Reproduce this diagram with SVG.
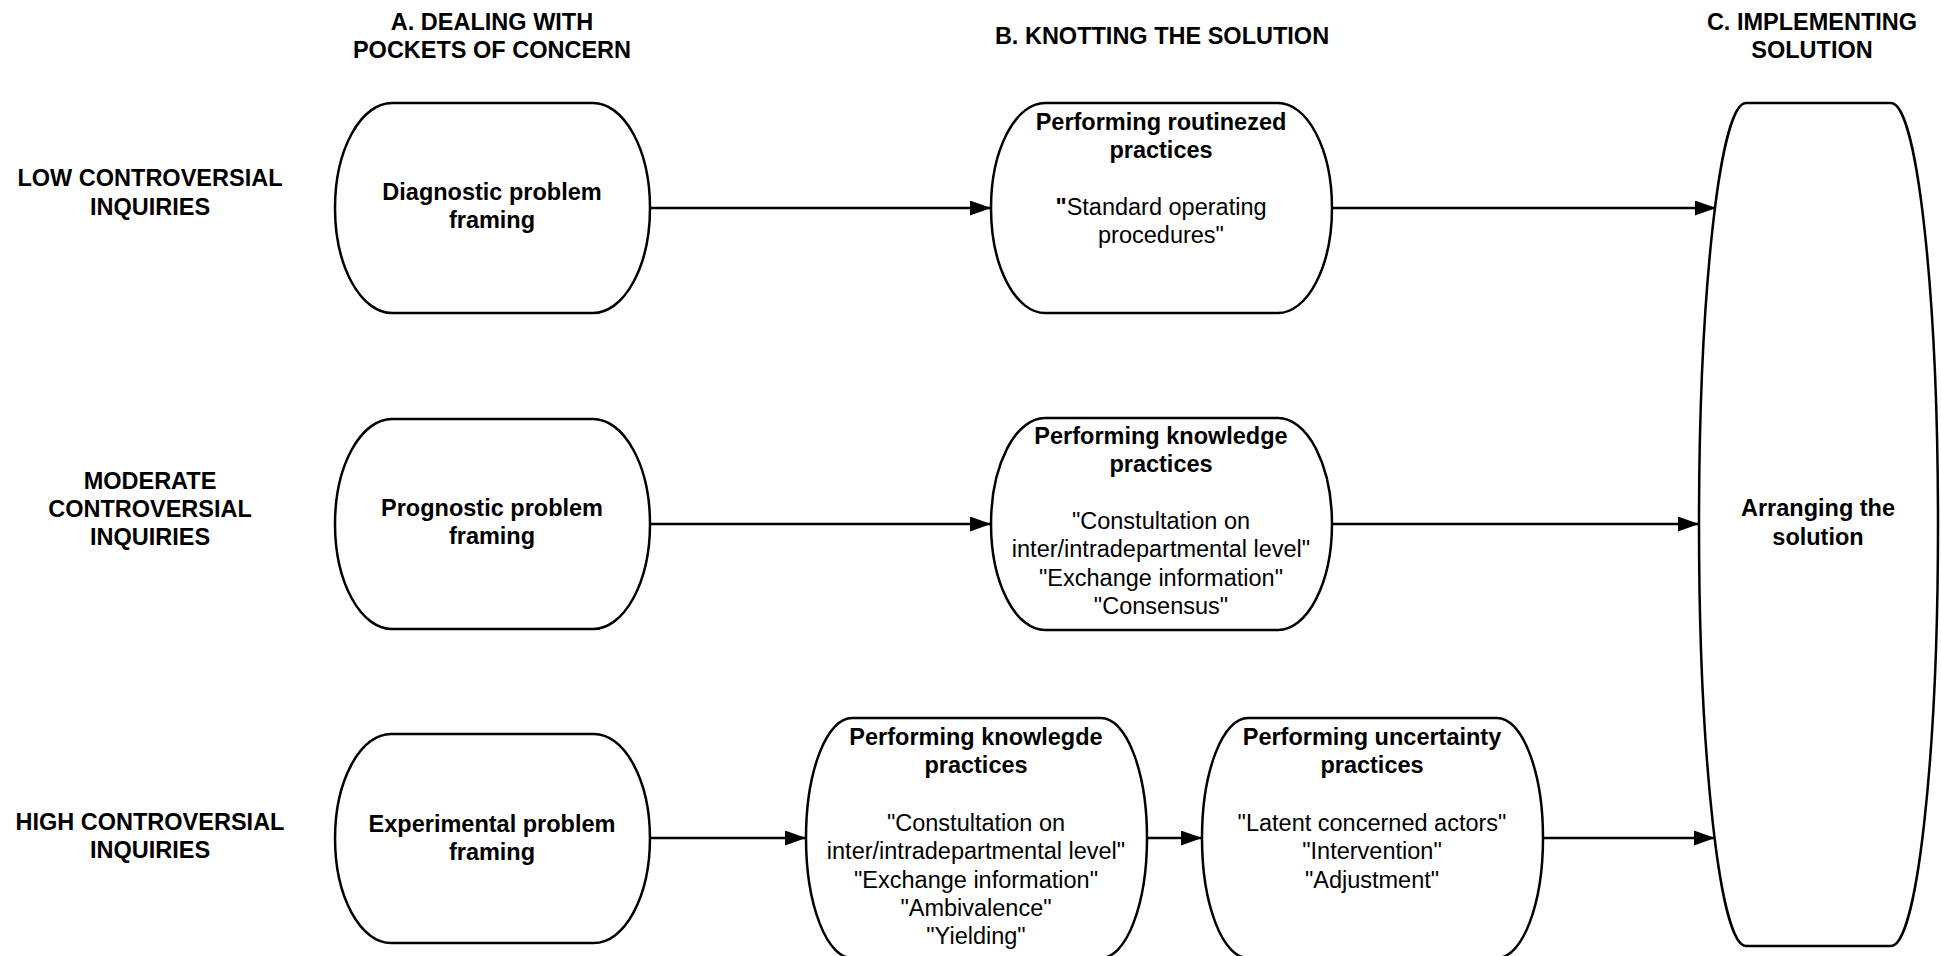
<svg xmlns="http://www.w3.org/2000/svg" width="1941" height="956" viewBox="0 0 1941 956">
<defs>
<style>
.node{fill:#fff;stroke:#000;stroke-width:2.5;stroke-linejoin:round}
.conn{fill:none;stroke:#000;stroke-width:2.5}
text{font-family:"Liberation Sans",Arial,sans-serif;font-size:23.5px;fill:#000;text-anchor:middle}
.b{font-weight:bold}
</style>
<marker id="arr" markerUnits="userSpaceOnUse" markerWidth="22" markerHeight="16" refX="21" refY="7.5" orient="auto">
<path d="M0,0 L21,7.5 L0,15 Z" fill="#000"/>
</marker>
</defs>
<rect width="1941" height="956" fill="#fff"/>

<g id="headers">
<text class="b" x="492" y="30">A. DEALING WITH</text>
<text class="b" x="492" y="58">POCKETS OF CONCERN</text>
<text class="b" x="1162" y="44">B. KNOTTING THE SOLUTION</text>
<text class="b" x="1812" y="30">C. IMPLEMENTING</text>
<text class="b" x="1812" y="58">SOLUTION</text>
</g>

<g id="rowlabels">
<text class="b" x="150" y="186">LOW CONTROVERSIAL</text>
<text class="b" x="150" y="215">INQUIRIES</text>
<text class="b" x="150" y="489">MODERATE</text>
<text class="b" x="150" y="517">CONTROVERSIAL</text>
<text class="b" x="150" y="545">INQUIRIES</text>
<text class="b" x="150" y="830">HIGH CONTROVERSIAL</text>
<text class="b" x="150" y="858">INQUIRIES</text>
</g>

<g id="connectors">
<line class="conn" x1="650" y1="208" x2="991" y2="208" marker-end="url(#arr)"/>
<line class="conn" x1="1332" y1="208" x2="1716" y2="208" marker-end="url(#arr)"/>
<line class="conn" x1="650" y1="524" x2="991" y2="524" marker-end="url(#arr)"/>
<line class="conn" x1="1332" y1="524" x2="1699" y2="524" marker-end="url(#arr)"/>
<line class="conn" x1="650" y1="838" x2="806" y2="838" marker-end="url(#arr)"/>
<line class="conn" x1="1147" y1="838" x2="1202" y2="838" marker-end="url(#arr)"/>
<line class="conn" x1="1543" y1="838" x2="1715" y2="838" marker-end="url(#arr)"/>
</g>

<g id="nodeA1">
<path class="node" d="M392,103 H593 A57,105 0 0 1 593,313 H392 A57,105 0 0 1 392,103 Z"/>
<text class="b" x="492" y="200">Diagnostic problem</text>
<text class="b" x="492" y="228">framing</text>
</g>

<g id="nodeA2">
<path class="node" d="M392,419 H593 A57,105 0 0 1 593,629 H392 A57,105 0 0 1 392,419 Z"/>
<text class="b" x="492" y="516">Prognostic problem</text>
<text class="b" x="492" y="544">framing</text>
</g>

<g id="nodeA3">
<path class="node" d="M391,734 H594 A56,104.5 0 0 1 594,943 H391 A56,104.5 0 0 1 391,734 Z"/>
<text class="b" x="492" y="832">Experimental problem</text>
<text class="b" x="492" y="860">framing</text>
</g>

<g id="nodeB1">
<path class="node" d="M1045,103 H1278 A54,105 0 0 1 1278,313 H1045 A54,105 0 0 1 1045,103 Z"/>
<text class="b" x="1161" y="130">Performing routinezed</text>
<text class="b" x="1161" y="158">practices</text>
<text x="1161" y="215"><tspan font-weight="bold">"</tspan>Standard operating</text>
<text x="1161" y="243">procedures"</text>
</g>

<g id="nodeB2">
<path class="node" d="M1045,418 H1278 A54,106 0 0 1 1278,630 H1045 A54,106 0 0 1 1045,418 Z"/>
<text class="b" x="1161" y="444">Performing knowledge</text>
<text class="b" x="1161" y="472">practices</text>
<text x="1161" y="529">"Constultation on</text>
<text x="1161" y="557">inter/intradepartmental level"</text>
<text x="1161" y="586">"Exchange information"</text>
<text x="1161" y="614">"Consensus"</text>
</g>

<g id="nodeB3a">
<path class="node" d="M852,718 H1101 A46,120 0 0 1 1101,958 H852 A46,120 0 0 1 852,718 Z"/>
<text class="b" x="976" y="745">Performing knowlegde</text>
<text class="b" x="976" y="773">practices</text>
<text x="976" y="831">"Constultation on</text>
<text x="976" y="859">inter/intradepartmental level"</text>
<text x="976" y="888">"Exchange information"</text>
<text x="976" y="916">"Ambivalence"</text>
<text x="976" y="944">"Yielding"</text>
</g>

<g id="nodeB3b">
<path class="node" d="M1248,718 H1497 A46,120 0 0 1 1497,958 H1248 A46,120 0 0 1 1248,718 Z"/>
<text class="b" x="1372" y="745">Performing uncertainty</text>
<text class="b" x="1372" y="773">practices</text>
<text x="1372" y="831">"Latent concerned actors"</text>
<text x="1372" y="859">"Intervention"</text>
<text x="1372" y="888">"Adjustment"</text>
</g>

<g id="nodeC">
<path class="node" d="M1746,103 H1891 A47,421.5 0 0 1 1891,946 H1746 A47,421.5 0 0 1 1746,103 Z"/>
<text class="b" x="1818" y="516">Arranging the</text>
<text class="b" x="1818" y="545">solution</text>
</g>
</svg>
